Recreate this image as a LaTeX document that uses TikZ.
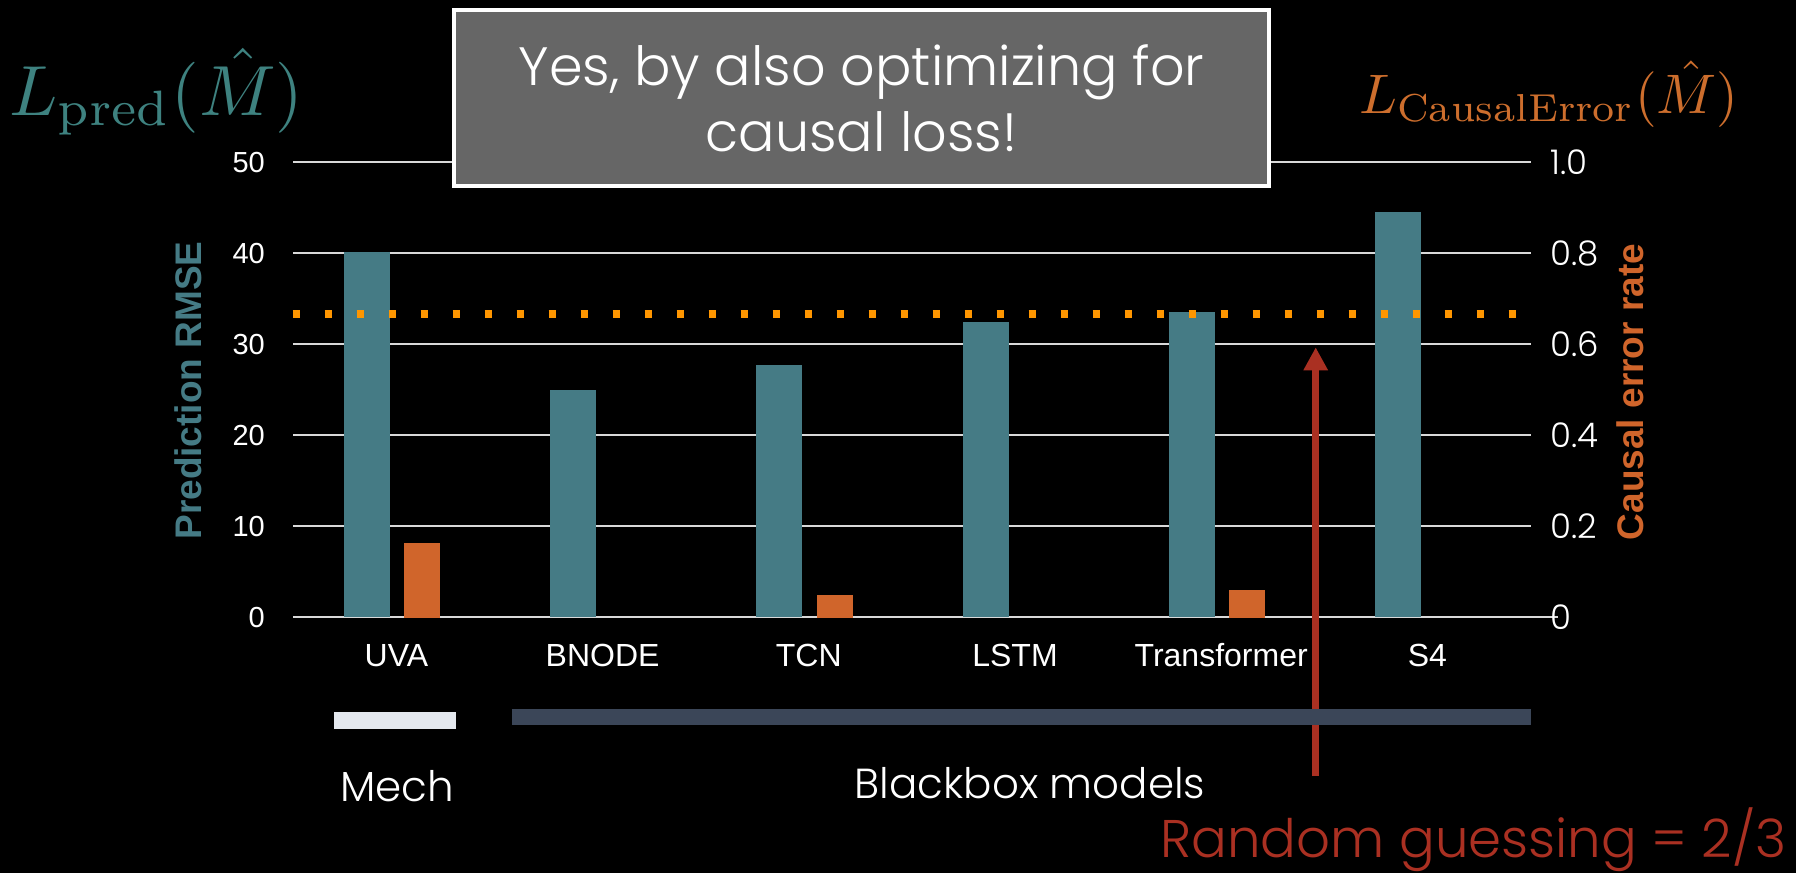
\documentclass[tikz,border=0pt]{standalone}
\usepackage{fontspec}
\newfontfamily\gothic{Poppins Light}
\newfontfamily\arial{Liberation Sans}
\usetikzlibrary{arrows.meta}
\definecolor{barteal}{RGB}{69,123,133}
\definecolor{barorange}{RGB}{208,101,43}
\definecolor{dotorange}{RGB}{255,150,0}
\definecolor{gridgray}{RGB}{217,217,217}
\definecolor{arrowred}{RGB}{170,48,34}
\definecolor{boxgray}{RGB}{102,102,102}
\definecolor{lteal}{RGB}{62,130,128}
\definecolor{lorange}{RGB}{205,110,45}
\definecolor{mechwhite}{RGB}{228,232,238}
\definecolor{bbgray}{RGB}{59,70,88}
\begin{document}
\begin{tikzpicture}[x=1pt,y=-1pt,
  gridline/.style={draw=gridgray, line width=2pt},
  tealbar/.style={fill=barteal},
  orangebar/.style={fill=barorange},
  ticklab/.style={font=\arial\fontsize{29}{29}\selectfont, text=white, anchor=east, inner sep=0pt},
  rticklab/.style={font=\gothic\fontsize{34}{34}\selectfont, text=white, anchor=west, inner sep=0pt},
  xlab/.style={font=\arial\fontsize{32}{32}\selectfont, text=white, anchor=base, inner sep=0pt},
  gothtext/.style={font=\gothic\fontsize{42}{42}\selectfont, text=white, anchor=base, inner sep=0pt},
  axtitle/.style={font=\arial\bfseries\fontsize{37}{37}\selectfont, rotate=90, inner sep=0pt},
  dotline/.style={draw=dotorange, line width=7.5pt, dash pattern=on 7.5pt off 24.5pt},
]
\fill[black] (0,0) rectangle (1796,873);
\useasboundingbox (0,0) rectangle (1796,873);

% grid lines
\foreach \i in {1,...,5}{
  \draw[gridline] (293.3,{617.3-91*\i}) -- (1530.7,{617.3-91*\i});
}
\draw[gridline] (293.3,617.3) -- (1558,617.3);

% left tick labels
\foreach \i/\t in {0/0,1/10,2/20,3/30,4/40,5/50}{
  \node[ticklab] (lt\i) at (265,{617.3-91*\i}) {\t};
}
% right tick labels
\foreach \i/\t in {0/0,1/0.2,2/0.4,3/0.6,4/0.8,5/1.0}{
  \node[rticklab] (rt\i) at (1550,{617.3-91*\i}) {\t};
}

% bars
\foreach \i/\v in {0/40.1,1/25.0,2/27.7,3/32.4,4/33.6,5/44.5}{
  \fill[tealbar] ({343.7+206.3*\i},617.3) rectangle ({389.7+206.3*\i},{617.3-9.1*\v});
}
\foreach \i/\v in {0/8.13,2/2.45,4/2.97}{
  \fill[orangebar] ({404+206.3*\i},618.3) rectangle ({440+206.3*\i},{617.3-9.1*\v});
}

% x labels
\foreach \i/\t in {0/UVA,1/BNODE,2/TCN,3/LSTM,4/Transformer,5/S4}{
  \node[xlab] (x\i) at ({396.4+206.2*\i},666) {\t};
}

% random guessing line
\draw[dotline] (292.5,314) -- (1516,314);

% axis titles
\node[axtitle, text=barteal] (ltitle) at (188,390.5) {Prediction RMSE};
\node[axtitle, text=barorange] (rtitle) at (1630,392) {Causal error rate};

% loss labels
\node[anchor=base west, inner sep=0pt, scale=7.1, text=lteal] (lpred) at (8,115) {$L_{\mathrm{pred}}(\hat{M})$};
\node[anchor=base west, inner sep=0pt, scale=5.57, text=lorange] (lcaus) at (1358,113.3) {$L_{\mathrm{CausalError}}(\hat{M})$};

% callout box
\node[draw=white, line width=4pt, fill=boxgray, minimum width=815pt, minimum height=175.7pt,
  inner sep=0pt, align=center, text=white, font=\gothic\fontsize{54}{66}\selectfont]
  (box) at (861.5,98.2) {Yes, by also optimizing for\\causal loss!};

% arrow
\coordinate (arrTail) at (1315.7,776);
\coordinate (arrTip) at (1315.7,347.3);
\draw[arrowred, line width=7.5pt, -{Triangle[width=23pt,length=23pt]}] (arrTail) -- (arrTip);

% group bars
\fill[mechwhite] (334,712.3) rectangle (456,728.7);
\fill[bbgray] (512,709.3) rectangle (1531,725);
\node[gothtext] (mech) at (397,801) {Mech};
\node[gothtext] (bb) at (1030,798) {Blackbox models};
\node[gothtext, text=arrowred, font=\gothic\fontsize{53}{53}\selectfont] (rg) at (1473.5,857) {Random guessing = 2/3};
\end{tikzpicture}
\end{document}
